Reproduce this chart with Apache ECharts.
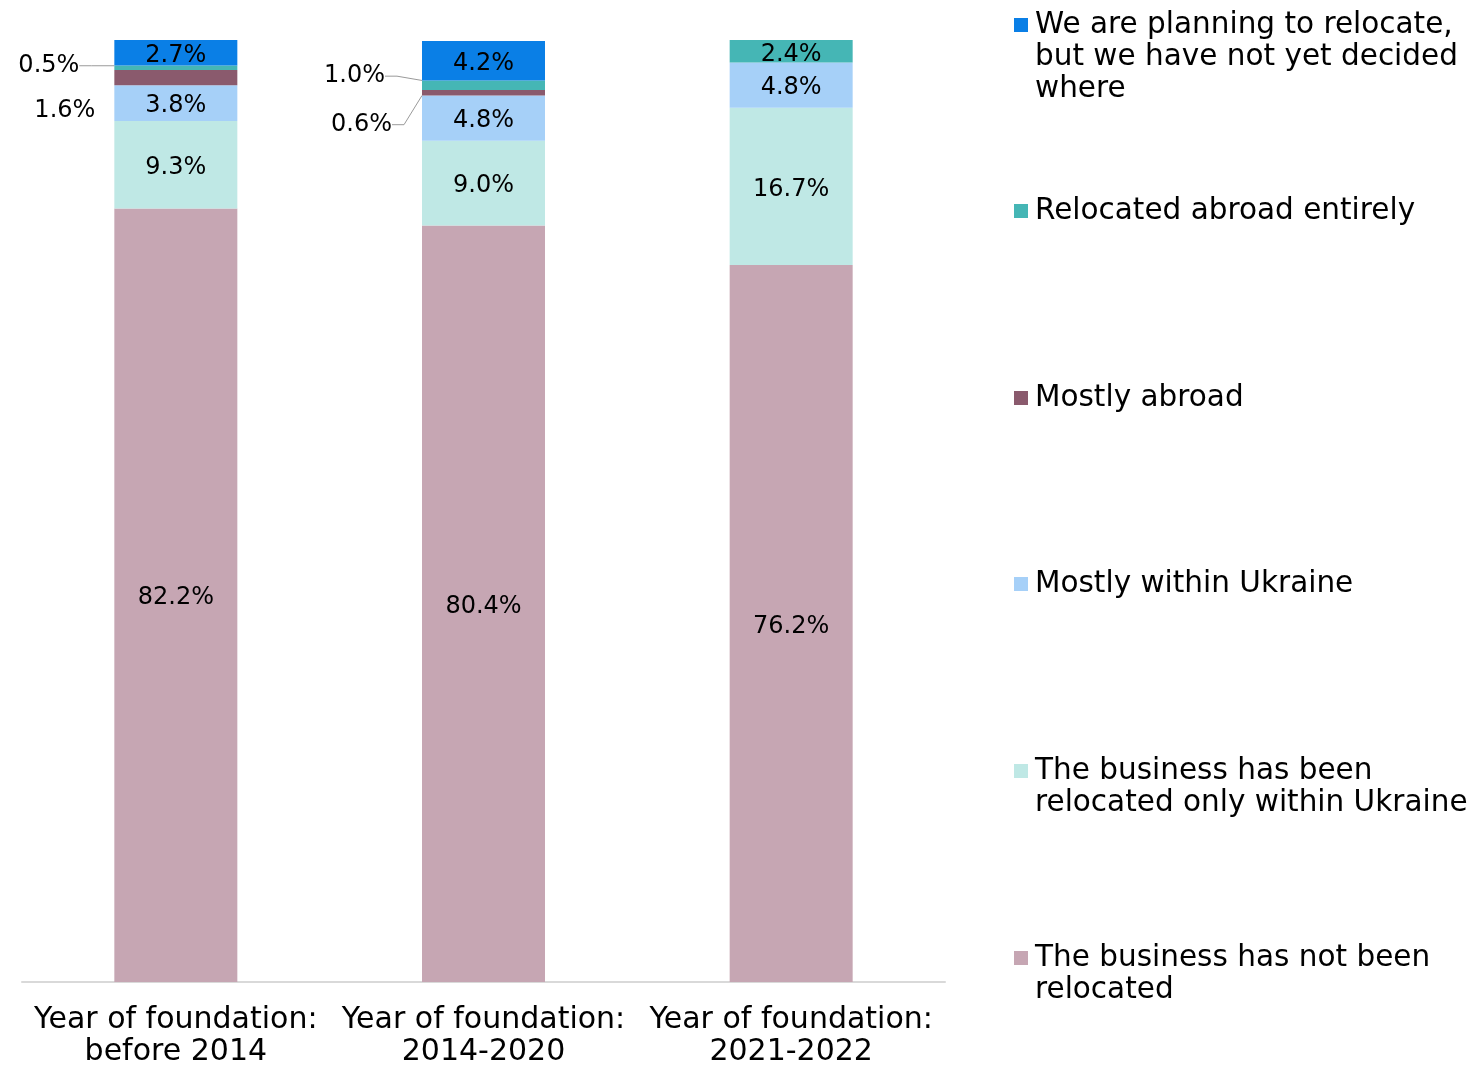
<!DOCTYPE html>
<html>
<head>
<meta charset="utf-8">
<script src="https://cdn.jsdelivr.net/npm/echarts@6/dist/echarts.min.js"></script>
<style>
html,body{margin:0;padding:0;background:#fff;}
#chart{width:1473px;height:1065px;}
</style>
</head>
<body>
<div id="chart"></div>
<script>
const categories = ['Year of foundation:\nbefore 2014', 'Year of foundation:\n2014-2020', 'Year of foundation:\n2021-2022'];
const seriesNames = [
  'The business has not been\nrelocated',
  'The business has been\nrelocated only within Ukraine',
  'Mostly within Ukraine',
  'Mostly abroad',
  'Relocated abroad entirely',
  'We are planning to relocate,\nbut we have not yet decided\nwhere'
];
const notRelocated = [82.2, 80.4, 76.2];
const onlyWithinUkraine = [9.3, 9.0, 16.7];
const mostlyWithinUkraine = [3.8, 4.8, 4.8];
const mostlyAbroad = [1.6, 0.6, 0];
const abroadEntirely = [0.5, 1.0, 2.4];
const planning = [2.7, 4.2, 0];
const colors = ['#c6a6b3', '#bfe8e5', '#a6d0f8', '#8a5a6d', '#45b6b5', '#0a7fe6'];

const FONT = 'DejaVu Sans';
const values = [notRelocated, onlyWithinUkraine, mostlyWithinUkraine, mostlyAbroad, abroadEntirely, planning];

// outside labels: [seriesIndex_dataIndex] -> distance, dy, showLine
const outside = {
  '3_0': {distance: 19, dy: 33, line: false},
  '3_1': {distance: 21, dy: 32, line: true},
  '4_0': {distance: 26, dy: -2, line: true},
  '4_1': {distance: 28, dy: -9, line: true}
};

const series = values.map((arr, si) => ({
  name: seriesNames[si],
  type: 'bar',
  stack: 'total',
  barWidth: 123,
  itemStyle: {color: colors[si]},
  label: {
    show: true,
    position: 'inside',
    color: '#000',
    fontFamily: FONT,
    fontSize: 24,
    formatter: p => p.value ? p.value.toFixed(1) + '%' : ''
  },
  labelLine: {show: false, lineStyle: {color: '#9a9a9a', width: 1}, length2: 12},
  labelLayout: function (p) {
    const o = outside[p.seriesIndex + '_' + p.dataIndex];
    if (o) return {dy: o.dy};
    return {dy: 3};
  },
  data: arr.map((v, di) => {
    const o = outside[si + '_' + di];
    if (!o) return v;
    return {
      value: v,
      label: {position: 'left', distance: o.distance, padding: o.line ? [0, 9, 0, 0] : 0},
      labelLine: {show: o.line}
    };
  })
}));

const lineCounts = seriesNames.map(n => n.split('\n').length);
const firstLineCenters = [958, 771, 584, 398, 211, 25];
const legends = seriesNames.map((name, i) => {
  const n = lineCounts[i];
  return {
    data: [name],
    left: 1014,
    top: firstLineCenters[i] - (2 * n - 1) * 16,
    padding: 0,
    itemWidth: 14,
    itemHeight: 14,
    icon: 'rect',
    selectedMode: false,
    formatter: nm => '\n'.repeat(n - 1) + nm,
    textStyle: {
      fontFamily: FONT,
      fontSize: 29.5,
      lineHeight: 32,
      color: '#000',
      padding: [0, 0, 0, 2]
    }
  };
});

const chart = echarts.init(document.getElementById('chart'));
chart.setOption({
  animation: false,
  backgroundColor: '#fff',
  legend: legends,
  grid: {left: 22, right: 528, top: 40, bottom: 83, containLabel: false, outerBoundsMode: 'none'},
  xAxis: {
    type: 'category',
    data: categories,
    axisLine: {show: true, lineStyle: {color: '#d9d9d9', width: 2}},
    axisTick: {show: false},
    axisLabel: {
      color: '#000',
      fontFamily: FONT,
      fontSize: 30,
      lineHeight: 32,
      margin: 22,
      interval: 0
    }
  },
  yAxis: {
    type: 'value',
    min: 0,
    max: 100.1,
    show: false,
    splitLine: {show: false}
  },
  series: series
});
</script>
</body>
</html>
